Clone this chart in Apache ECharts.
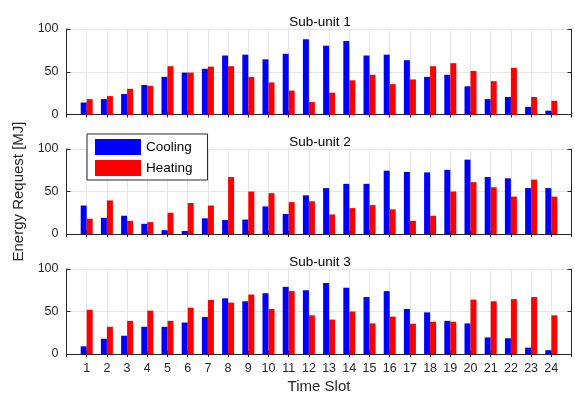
<!DOCTYPE html>
<html><head><meta charset="utf-8">
<script src="https://cdn.jsdelivr.net/npm/echarts@6/dist/echarts.min.js"></script>
<style>html,body{margin:0;padding:0;background:#fff}#c{width:575px;height:395px}</style>
</head><body><div id="c"></div>
<script>
const slots = ['1','2','3','4','5','6','7','8','9','10','11','12','13','14','15','16','17','18','19','20','21','22','23','24'];
const titles = ['Sub-unit 1','Sub-unit 2','Sub-unit 3'];
const cooling1 = [14,18,24,34.5,44,49,53.5,69,70,64.5,71,88,80.5,86,69,70,63.5,44,46.5,33,18,20.5,9,4.5];
const heating1 = [18,21.5,30,33.5,56.5,49,56,56.5,44,37.5,28,14.5,25.5,40,46.5,35.5,41,56.5,60,51,39,54.5,20.5,16];
const cooling2 = [33.5,19,21.5,12,4.5,3.5,18.5,16.5,17,32.5,23.5,45.5,54,59,59,74.5,73,72.5,75.5,87.5,67,65.5,54,54];
const heating2 = [18,39.5,15.5,14,25,36.5,33.5,67,50,48,37.5,38.5,23,30.5,34,29,15.5,21.5,50,61,55,44,64,44];
const cooling3 = [9,18,21.5,32,32,37,43.5,65.5,62,71.5,79,75,83.5,78,67,74,53,49,39,36,19.5,18.5,7.5,4.5];
const heating3 = [52,32,39,51,39,54.5,63.5,60.5,70,53,74,45.5,40.5,50,36,44,35.5,38,38,64,62,64.5,67,45.5];
const yTicks = [0,50,100];

const cats = ['0'].concat(slots, ['25']);
const pad = a => [null].concat(a, [null]);
const coolSets = [cooling1, cooling2, cooling3];
const heatSets = [heating1, heating2, heating3];

const FONT = 'Liberation Sans';
const INK = '#262626';
const tops = [29, 149, 269];
const heights = [85.5, 85, 86];

const grid = [], xAxis = [], yAxis = [], series = [], title = [];
for (let i = 0; i < 3; i++) {
  grid.push({left: 66.5, right: 3.5, top: tops[i], height: heights[i]});
  title.push({text: titles[i], left: 315, top: tops[i] - 18.5, textAlign: 'center',
    textStyle: {fontFamily: FONT, fontSize: 13.5, fontWeight: 'normal', color: '#000'}});
  const bottom = i === 2;
  xAxis.push({type: 'category', gridIndex: i, data: cats, boundaryGap: false, position: 'bottom',
    axisLine: {lineStyle: {color: INK, width: 1}},
    axisTick: {show: true, inside: true, length: 3, interval: 0, lineStyle: {color: INK}},
    axisLabel: {show: bottom, interval: 0, margin: 8, fontFamily: FONT, fontSize: 12.5, color: INK,
      formatter: v => (v === '0' || v === '25') ? '' : v},
    splitLine: {show: true, interval: 0, lineStyle: {color: '#e6e6e6'}},
    name: bottom ? 'Time Slot' : '', nameLocation: 'middle', nameGap: 25,
    nameTextStyle: {fontFamily: FONT, fontSize: 15, color: INK}});
  xAxis.push({type: 'category', gridIndex: i, data: cats, boundaryGap: false, position: 'top',
    axisLine: {lineStyle: {color: INK, width: 1}},
    axisTick: {show: true, inside: true, length: 3, interval: 0, lineStyle: {color: INK}},
    axisLabel: {show: false}, splitLine: {show: false}});
  yAxis.push({type: 'value', gridIndex: i, min: yTicks[0], max: yTicks[yTicks.length-1], interval: 50,
    position: 'left',
    axisLine: {show: true, lineStyle: {color: INK, width: 1}},
    axisTick: {show: true, inside: true, length: 4, lineStyle: {color: INK}},
    axisLabel: {fontFamily: FONT, fontSize: 12.5, color: INK, margin: 8},
    splitLine: {show: true, lineStyle: {color: '#e6e6e6'}},
    name: i === 1 ? 'Energy Request [MJ]' : '', nameLocation: 'middle', nameGap: 32,
    nameTextStyle: {fontFamily: FONT, fontSize: 15, color: INK}});
  yAxis.push({type: 'value', gridIndex: i, min: 0, max: 100, interval: 50, position: 'right',
    axisLine: {show: true, lineStyle: {color: INK, width: 1}},
    axisTick: {show: true, inside: true, length: 4, lineStyle: {color: INK}},
    axisLabel: {show: false}, splitLine: {show: false}});
  series.push({name: 'Cooling', type: 'bar', xAxisIndex: 2*i, yAxisIndex: 2*i, data: pad(coolSets[i]),
    barWidth: 6, barGap: '0%', itemStyle: {color: '#0000ff'}, animation: false});
  series.push({name: 'Heating', type: 'bar', xAxisIndex: 2*i, yAxisIndex: 2*i, data: pad(heatSets[i]),
    barWidth: 6, barGap: '0%', itemStyle: {color: '#ff0000'}, animation: false});
}

const chart = echarts.init(document.getElementById('c'), null, {renderer: 'canvas'});
chart.setOption({
  animation: false,
  title: title,
  grid: grid, xAxis: xAxis, yAxis: yAxis, series: series,
  legend: {data: ['Cooling', 'Heating'], orient: 'vertical', left: 87, top: 134,
    icon: 'rect', itemWidth: 46, itemHeight: 16, itemGap: 5,
    padding: [5, 15, 4, 8], backgroundColor: '#fff', borderColor: INK, borderWidth: 1,
    textStyle: {fontFamily: FONT, fontSize: 13.5, color: '#000'}, z: 10}
});
</script></body></html>
